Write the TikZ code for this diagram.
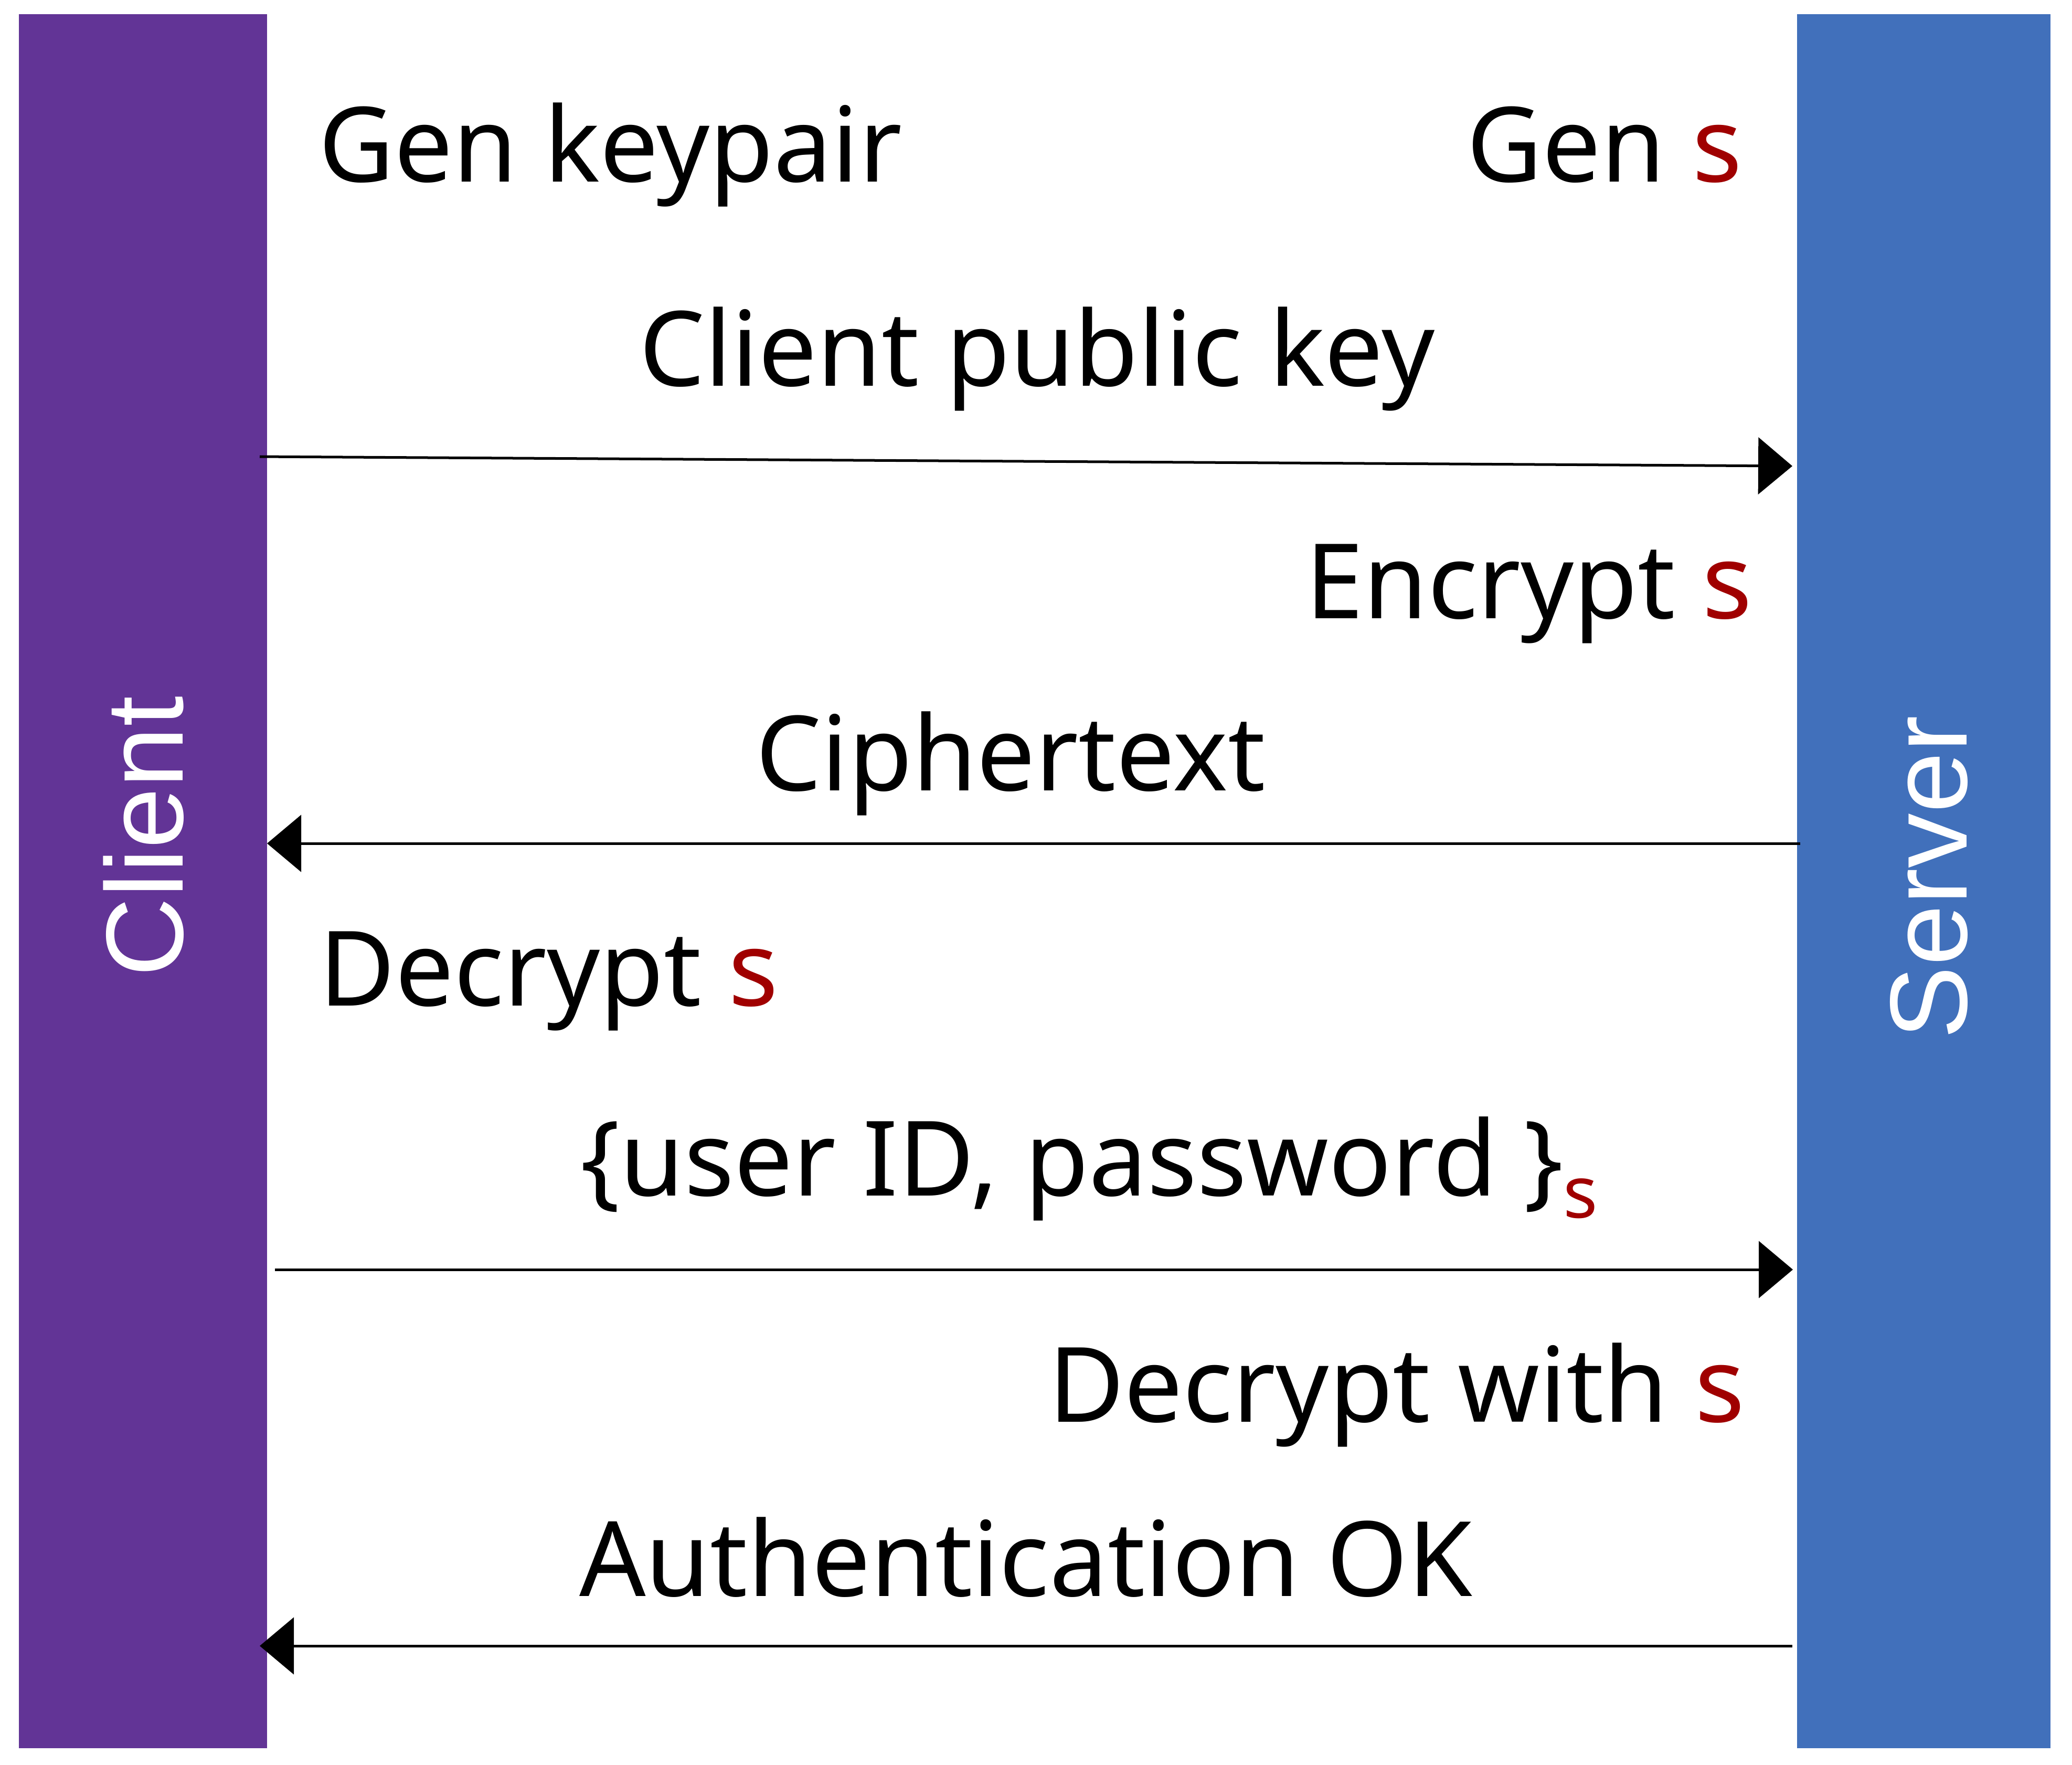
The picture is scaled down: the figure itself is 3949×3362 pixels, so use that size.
\documentclass[tikz,border=0pt]{standalone}
\usepackage{fontspec}
\setmainfont{Noto Sans}
\newfontfamily\barlabelfont{Liberation Sans}
\usetikzlibrary{arrows.meta}
\definecolor{clientpurple}{RGB}{98,52,150}
\definecolor{serverblue}{RGB}{65,112,187}
\definecolor{keyred}{RGB}{160,0,0}
\newcommand{\redS}{\textcolor{keyred}{s}}
\begin{document}
\begin{tikzpicture}[x=0.01cm,y=-0.01cm,
  barbox/.style={inner sep=0pt, outer sep=0pt, anchor=north west, minimum height=33.02cm},
  txt/.style={inner sep=0pt, anchor=base, font=\fontsize{56.4pt}{68pt}\selectfont},
  barlabel/.style={inner sep=0pt, anchor=base, rotate=90, text=white, font=\barlabelfont\fontsize{59.5pt}{70pt}\selectfont},
  msg/.style={line width=0.05cm, -{Triangle[length=0.65cm,width=1.08cm]}}
]
\fill[white] (0,0) rectangle (3949,3362);
\useasboundingbox (0,0) rectangle (3949,3362);
% lifelines
\node[barbox, fill=clientpurple, minimum width=4.73cm] (client) at (36,27) {};
\node[barbox, fill=serverblue, minimum width=4.83cm] (server) at (3425,27) {};
\node[barlabel] (clientlabel) at (348,1594) {Client};
\node[barlabel] (serverlabel) at (3748,1672) {Server};
% texts
\node[txt] (genkp) at (1163,346) {Gen keypair};
\node[txt] (gens) at (3058,346) {Gen \redS};
\node[txt] (cpk) at (1976,735) {Client public key};
\node[txt] (encs) at (2914,1178) {Encrypt \redS};
\node[txt] (ctext) at (1926,1506) {Ciphertext};
\node[txt] (decs) at (1046,1916) {Decrypt \redS};
\node[txt] (creds) at (2076,2278) {\{user ID, password \}\raisebox{-0.42cm}{\fontsize{39pt}{46pt}\selectfont\redS}};
\node[txt] (decws) at (2662,2709) {Decrypt with \redS};
\node[txt] (authok) at (1955,3041) {Authentication OK};
% message endpoints
\coordinate (m1s) at (495,870);   \coordinate (m1e) at (3416,888);
\coordinate (m2s) at (3431,1607); \coordinate (m2e) at (509,1607);
\coordinate (m3s) at (524,2419);  \coordinate (m3e) at (3417,2419);
\coordinate (m4s) at (3416,3136); \coordinate (m4e) at (495,3136);
\draw[msg] (m1s) -- (m1e);
\draw[msg] (m2s) -- (m2e);
\draw[msg] (m3s) -- (m3e);
\draw[msg] (m4s) -- (m4e);
\end{tikzpicture}
\end{document}
